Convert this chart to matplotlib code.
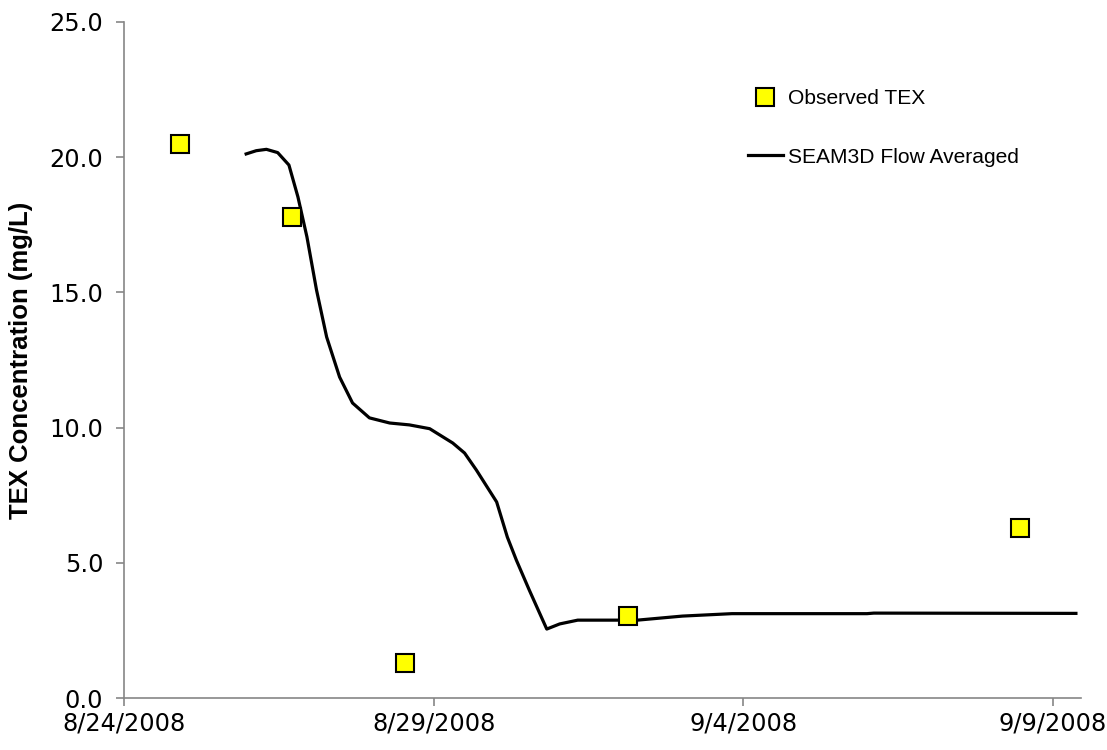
import datetime as dt
import matplotlib
matplotlib.use("Agg")
import matplotlib.pyplot as plt
import matplotlib.dates as mdates
from matplotlib.ticker import FuncFormatter, FormatStrFormatter

# fecha base del eje
base = dt.datetime(2008, 8, 24)

# datos observados (dias desde 8/24/2008)
obs_days = [0.99, 2.98, 4.99, 8.96, 15.92]
obs_conc = [20.5, 17.8, 1.3, 3.05, 6.3]

# resultado del modelo SEAM3D
sim_days = [2.17, 2.35, 2.53, 2.73, 2.93, 3.09, 3.25, 3.42, 3.60, 3.83, 4.06,
            4.36, 4.72, 5.07, 5.43, 5.84, 6.05, 6.26, 6.62, 6.81, 6.97, 7.20,
            7.51, 7.74, 8.06, 8.80, 9.12, 9.92, 10.8, 13.2, 13.32, 16.91]
sim_conc = [20.12, 20.24, 20.29, 20.17, 19.71, 18.53, 17.05, 15.09, 13.35,
            11.87, 10.91, 10.36, 10.17, 10.10, 9.96, 9.43, 9.06, 8.43, 7.25,
            5.95, 5.10, 3.99, 2.55, 2.74, 2.88, 2.88, 2.88, 3.03, 3.12, 3.12,
            3.14, 3.13]

tick_days = [0, 5.5, 11, 16.5]
y_ticks = [0, 5, 10, 15, 20, 25]


def to_dates(dias):
    return [base + dt.timedelta(days=d) for d in dias]


fig = plt.figure(figsize=(11.07, 7.5), dpi=100)
ax = fig.add_axes([0.112, 0.0693, 0.8645, 0.9014])

ax.plot(to_dates(sim_days), sim_conc, color="black", lw=2.3,
        label="SEAM3D Flow Averaged")
ax.plot(to_dates(obs_days), obs_conc, ls="none", marker="s", ms=12.5,
        mfc="#ffff00", mec="black", mew=1.5, label="Observed TEX")

ax.set_xlim(base, base + dt.timedelta(days=17))
ax.set_ylim(0, 25)
ax.set_xticks(to_dates(tick_days))
ax.xaxis.set_major_formatter(FuncFormatter(
    lambda v, p: "{d.month}/{d.day}/{d.year}".format(d=mdates.num2date(v))))
ax.set_yticks(y_ticks)
ax.yaxis.set_major_formatter(FormatStrFormatter("%.1f"))

for s in ["top", "right"]:
    ax.spines[s].set_visible(False)
for s in ["left", "bottom"]:
    ax.spines[s].set_color("#868686")
    ax.spines[s].set_linewidth(1.2)
ax.tick_params(direction="out", length=6, width=1.2, color="#868686",
               labelsize=17.3)
ax.tick_params(axis="x", pad=4)
ax.tick_params(axis="y", pad=9)

ax.set_ylabel("TEX Concentration (mg/L)", fontsize=18.5, fontweight="bold",
              family="Liberation Sans", labelpad=12)

h, l = ax.get_legend_handles_labels()
ax.legend(h[::-1], l[::-1], loc="upper left", bbox_to_anchor=(0.652, 0.901),
          frameon=False, borderpad=0, borderaxespad=0, handlelength=1.65,
          handletextpad=0.25, labelspacing=1.9,
          prop={"family": "Liberation Sans", "size": 15.1})

fig.savefig("out.png", dpi=100)
